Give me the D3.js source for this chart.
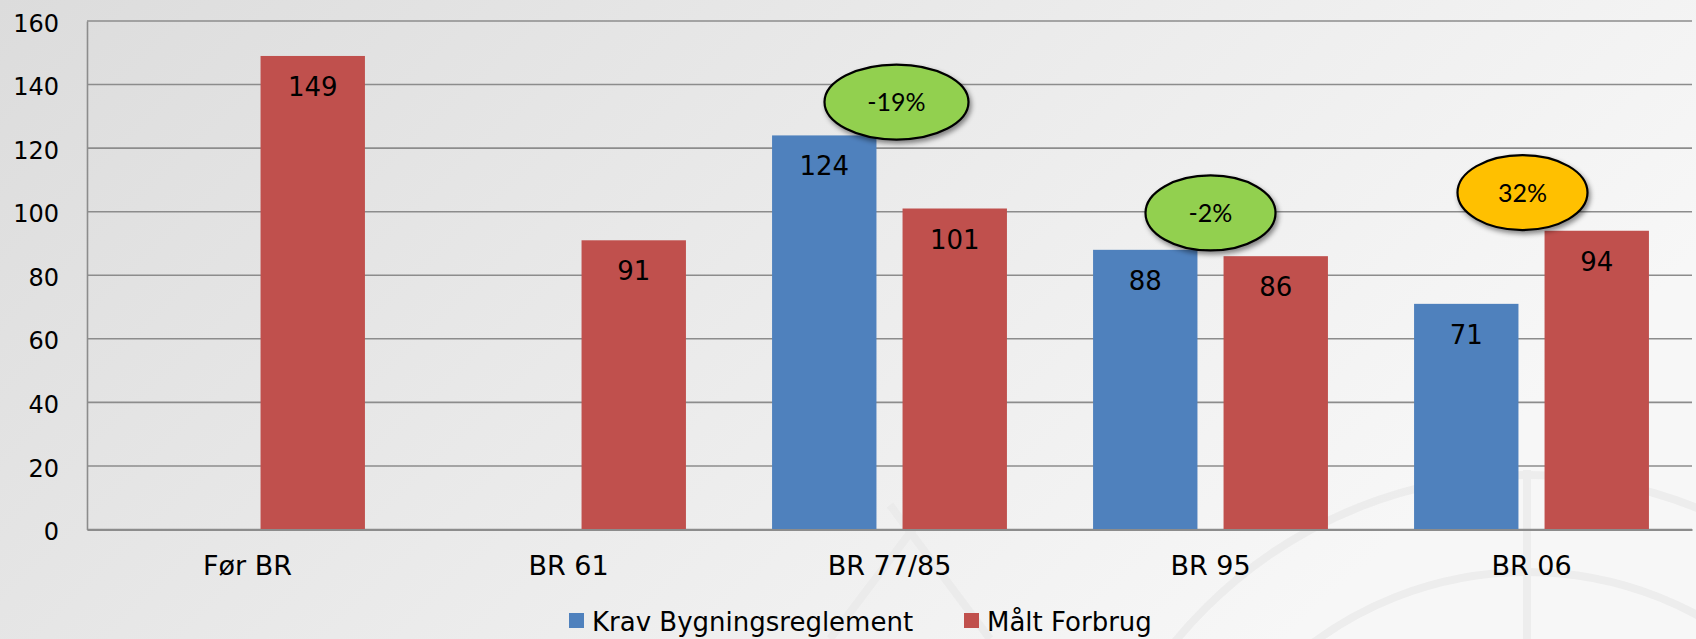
<!DOCTYPE html>
<html>
<head>
<meta charset="utf-8">
<script src="https://cdn.jsdelivr.net/npm/d3@7"></script>
<style>
  body { margin: 0; overflow: hidden; }
  svg text { font-family: "DejaVu Sans", Verdana, sans-serif; fill: #000; }
</style>
</head>
<body>
<script>
// chart data
var categories = ['Før BR', 'BR 61', 'BR 77/85', 'BR 95', 'BR 06'];
var seriesNames = ['Krav Bygningsreglement', 'Målt Forbrug'];
var kravValues = [null, null, 124, 88, 71];
var maaltValues = [149, 91, 101, 86, 94];
var yTicks = [0, 20, 40, 60, 80, 100, 120, 140, 160];

// percentage bubbles: category, label, level (in data units)
var noteCategories = ['BR 77/85', 'BR 95', 'BR 06'];
var noteLabels = ['-19%', '-2%', '32%'];
var noteLevels = [134.5, 99.6, 106];
var noteColors = ['#92D050', '#92D050', '#FFC000'];

var seriesColors = ['#4F81BD', '#C0504D'];

var W = 1696, H = 639;
var margin = {left: 87, right: 4, top: 21, bottom: 109.5};

var svg = d3.select('body').append('svg')
    .attr('width', W)
    .attr('height', H);

// background
var defs = svg.append('defs');
var bg = defs.append('linearGradient').attr('id', 'bg')
    .attr('x1', 0).attr('y1', 0).attr('x2', 1).attr('y2', 0.4);
bg.append('stop').attr('offset', 0).attr('stop-color', '#dcdcdc');
bg.append('stop').attr('offset', 0.55).attr('stop-color', '#ebebeb');
bg.append('stop').attr('offset', 1).attr('stop-color', '#f7f7f7');

var shadow = defs.append('filter').attr('id', 'shadow')
    .attr('x', '-20%').attr('y', '-20%').attr('width', '150%').attr('height', '160%');
shadow.append('feDropShadow')
    .attr('dx', 2).attr('dy', 3).attr('stdDeviation', 2.5)
    .attr('flood-color', '#000').attr('flood-opacity', 0.45);

svg.append('rect')
    .attr('width', W).attr('height', H)
    .attr('fill', 'url(#bg)');

// faint watermark arcs
var wm = svg.append('g')
    .attr('fill', 'none')
    .attr('stroke', '#e9e9e9')
    .attr('stroke-width', 8)
    .attr('opacity', 0.7);
wm.append('circle').attr('cx', 1527).attr('cy', 930).attr('r', 455);
wm.append('circle').attr('cx', 1527).attr('cy', 930).attr('r', 358);
wm.append('line').attr('x1', 1527).attr('y1', 470).attr('x2', 1527).attr('y2', 639);
wm.append('line').attr('x1', 830).attr('y1', 639).attr('x2', 950).attr('y2', 480);
wm.append('line').attr('x1', 990).attr('y1', 639).attr('x2', 890).attr('y2', 505);

var plotW = W - margin.left - margin.right;
var plotH = H - margin.top - margin.bottom;

var x = d3.scaleBand()
    .domain(categories)
    .range([margin.left, margin.left + plotW])
    .paddingInner(0)
    .paddingOuter(0);

var x1 = d3.scaleBand()
    .domain([0, 1])
    .range([0, x.bandwidth()])
    .paddingInner(0.2)
    .paddingOuter(0.33);

var y = d3.scaleLinear()
    .domain([0, 160])
    .range([margin.top + plotH, margin.top]);

// grid lines
svg.append('g')
    .selectAll('line')
    .data(yTicks)
    .join('line')
    .attr('x1', margin.left)
    .attr('x2', margin.left + plotW)
    .attr('y1', function(d) { return y(d); })
    .attr('y2', function(d) { return y(d); })
    .attr('stroke', '#8c8c8c')
    .attr('stroke-width', 1.6);

// y axis
var yAxis = svg.append('g')
    .attr('transform', 'translate(' + margin.left + ',0)')
    .call(d3.axisLeft(y).tickValues(yTicks).tickSize(0).tickPadding(28));
yAxis.select('.domain').attr('stroke', '#8c8c8c').attr('stroke-width', 1.6);
yAxis.selectAll('text')
    .style('font-size', '24px')
    .attr('font-family', null)
    .attr('dy', '0.42em');

// bars
var bars = svg.append('g');
var series = [kravValues, maaltValues];
series.forEach(function(vals, s) {
    var data = categories.map(function(c, i) { return {cat: c, value: vals[i]}; })
        .filter(function(d) { return d.value != null; });

    bars.append('g').selectAll('rect')
        .data(data)
        .join('rect')
        .attr('x', function(d) { return x(d.cat) + x1(s); })
        .attr('y', function(d) { return y(d.value); })
        .attr('width', x1.bandwidth())
        .attr('height', function(d) { return y(0) - y(d.value); })
        .attr('fill', seriesColors[s]);

    bars.append('g').selectAll('text')
        .data(data)
        .join('text')
        .attr('x', function(d) { return x(d.cat) + x1(s) + x1.bandwidth() / 2; })
        .attr('y', function(d) { return y(d.value) + 40; })
        .attr('text-anchor', 'middle')
        .style('font-size', '26px')
        .text(function(d) { return d.value; });
});

// x axis
var xAxis = svg.append('g')
    .attr('transform', 'translate(0,' + y(0) + ')')
    .call(d3.axisBottom(x).tickSize(0).tickPadding(26));
xAxis.select('.domain').attr('stroke', '#8c8c8c').attr('stroke-width', 2);
xAxis.selectAll('text')
    .style('font-size', '27px')
    .attr('font-family', null);

// percentage bubbles
var bubbleOffsets = [7, 0, -9];
var bubbleRx = [72, 65, 65];
noteCategories.forEach(function(c, i) {
    var cx = x(c) + x.bandwidth() / 2 + bubbleOffsets[i];
    var cy = y(noteLevels[i]);
    var g = svg.append('g');
    g.append('ellipse')
        .attr('cx', cx).attr('cy', cy)
        .attr('rx', bubbleRx[i]).attr('ry', 37.5)
        .attr('fill', noteColors[i])
        .attr('stroke', '#000')
        .attr('stroke-width', 2.2)
        .attr('filter', 'url(#shadow)');
    g.append('text')
        .attr('x', cx).attr('y', cy)
        .attr('dy', '0.36em')
        .attr('text-anchor', 'middle')
        .style('font-family', 'Lato, "Liberation Sans", Arial, sans-serif')
        .style('font-size', '25px')
        .text(noteLabels[i]);
});

// legend
var legend = svg.append('g');
var legendX = [569, 964];
seriesNames.forEach(function(name, i) {
    legend.append('rect')
        .attr('x', legendX[i]).attr('y', 613)
        .attr('width', 15).attr('height', 15)
        .attr('fill', seriesColors[i]);
    legend.append('text')
        .attr('x', legendX[i] + 23).attr('y', 631)
        .style('font-size', '26px')
        .text(name);
});
</script>
</body>
</html>
